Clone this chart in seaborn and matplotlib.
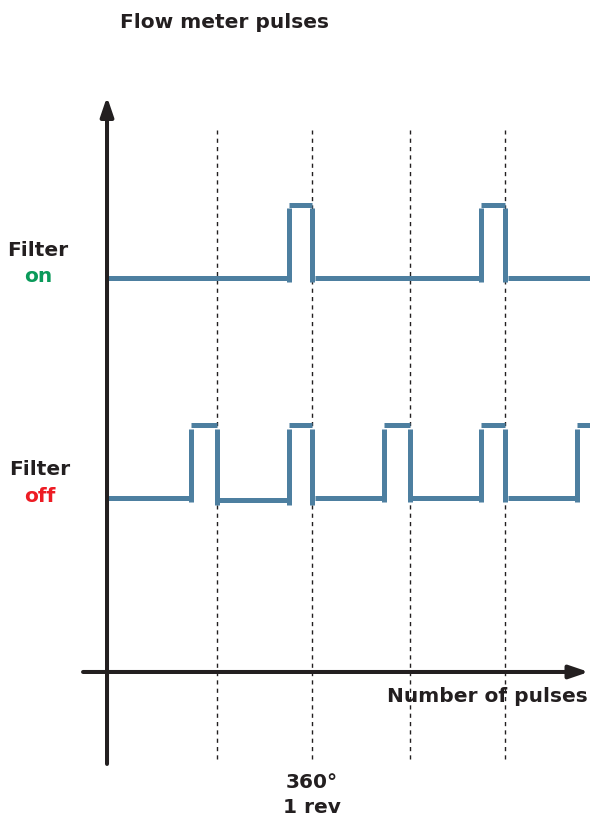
import pandas as pd
import seaborn as sns
import matplotlib.pyplot as plt

# x in degrees of rotation, y in signal units (x-axis at 0)
guide_x = [192, 360, 530, 698]

on_rise = [318, 656]
on_fall = [360, 698]
on_low = [5.40, 5.40, 5.40]
on_high = 6.40

off_rise = [148, 318, 486, 656, 824]
off_fall = [192, 360, 530, 698]
off_low = [2.39, 2.35, 2.39, 2.39, 2.39]
off_high = 3.38

x_start, x_end = 2, 846

LINE = '#4d7fa0'
INK = '#231f20'


def pulse_segments(rises, falls, lows, high, name):
    """Build the stylised pulse train as separate line segments."""
    rows = []
    seg = 0
    dx, dy, gap = 4.4, 0.062, 0.048

    def add(xs, ys):
        nonlocal seg
        for x, y in zip(xs, ys):
            rows.append({'x': x, 'y': y, 'seg': f'{name}{seg}'})
        seg += 1

    left = x_start
    for i, r in enumerate(rises):
        low = lows[i]
        add([left, r], [low, low])
        top_end = falls[i] if i < len(falls) else x_end
        add([r, r], [low - dy, high - gap])
        add([r, top_end], [high, high])
        if i < len(falls):
            nxt = lows[i + 1]
            add([falls[i], falls[i]], [high - gap, min(low, nxt) - dy])
            left = falls[i] + dx
    if len(falls) == len(rises):
        add([left, x_end], [lows[-1], lows[-1]])
    return rows


df = pd.DataFrame(pulse_segments(on_rise, on_fall, on_low, on_high, 'on')
                  + pulse_segments(off_rise, off_fall, off_low, off_high, 'off'))

sns.set_style('white')
fig = plt.figure(figsize=(5.9, 8.2), dpi=100)
ax = fig.add_axes([0, 0, 1, 1])

for gx in guide_x:
    ax.plot([gx, gx], [-1.19, 7.42], color=INK, lw=1.0, ls=(0, (3, 3)))

sns.lineplot(data=df, x='x', y='y', units='seg', estimator=None, sort=False,
             color=LINE, lw=3.6, ax=ax, legend=False,
             solid_capstyle='butt')

arrow = dict(arrowstyle='-|>,head_length=0.5,head_width=0.17', lw=2.9,
             color=INK, shrinkA=0, shrinkB=0, mutation_scale=23)
ax.annotate('', xy=(0, 7.88), xytext=(0, -1.26), arrowprops=arrow)
ax.annotate('', xy=(844, 0), xytext=(-42, 0), arrowprops=arrow)

ax.set_xlim(-187.5, 846.2)
ax.set_ylim(-2.014, 9.219)
ax.axis('off')

bold = dict(fontweight='bold', fontfamily='DejaVu Sans')
fs = 14.5
fig.text(120 / 590, 1 - 23 / 820, 'Flow meter pulses', fontsize=fs,
         color=INK, ha='left', va='center', **bold)
fig.text(38 / 590, 1 - 251 / 820, 'Filter', fontsize=fs, color=INK,
         ha='center', va='center', **bold)
fig.text(38 / 590, 1 - 277 / 820, 'on', fontsize=fs, color='#0a9a5a',
         ha='center', va='center', **bold)
fig.text(40 / 590, 1 - 470 / 820, 'Filter', fontsize=fs, color=INK,
         ha='center', va='center', **bold)
fig.text(40 / 590, 1 - 497 / 820, 'off', fontsize=fs, color='#ed1c24',
         ha='center', va='center', **bold)
fig.text(588 / 590, 1 - 697 / 820, 'Number of pulses', fontsize=fs,
         color=INK, ha='right', va='center', **bold)
fig.text(312 / 590, 1 - 783 / 820, '360°', fontsize=fs, color=INK,
         ha='center', va='center', **bold)
fig.text(312 / 590, 1 - 808 / 820, '1 rev', fontsize=fs, color=INK,
         ha='center', va='center', **bold)

fig.savefig('out.png', dpi=100, facecolor='white')
